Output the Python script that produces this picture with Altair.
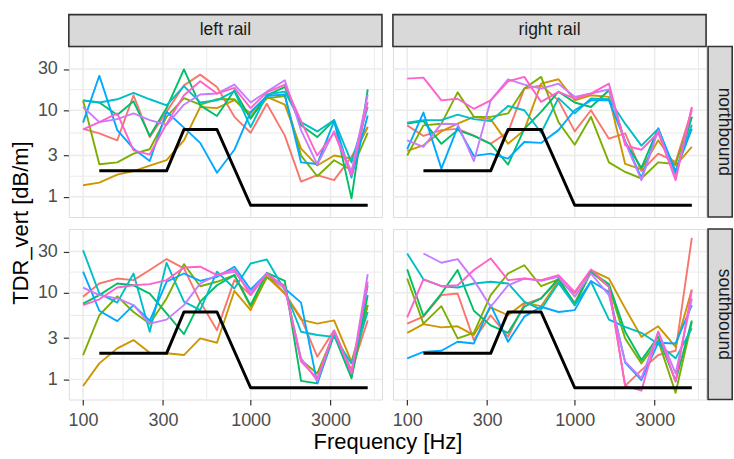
import altair as alt
import pandas as pd

# ---------------- data ----------------
freqs = [100, 125, 160, 200, 250, 315, 400, 500, 630, 800, 1000, 1250, 1600, 2000, 2500, 3150, 4000, 5000]
series_names = ["s1", "s2", "s3", "s4", "s5", "s6", "s7", "s8"]
series_colors = ["#F8766D", "#CD9600", "#7CAE00", "#00BE67", "#00BFC4", "#00A9FF", "#C77CFF", "#FF61CC"]

limit_freq = [125, 315, 400, 630, 1000, 5000]
limit_tdr = [2, 2, 6, 6, 0.8, 0.8]

x_major = [100, 300, 1000, 3000]
x_minor = [173.2, 547.7, 1732, 5477]
y_major = [1, 3, 10, 30]
y_minor = [1.732, 5.477, 17.32]

north_left = {
    "s1": [6.1, 5.4, 4.5, 14.9, 4.9, 9.6, 19.4, 25.8, 18.6, 8.4, 5.5, 11.9, 5.1, 1.5, 1.78, 1.56, 2.9, 6.4],
    "s2": [1.36, 1.46, 1.81, 1.98, 2.3, 2.65, 4.5, 10.9, 10.6, 13.1, 9.2, 14.3, 11.6, 3.6, 2.3, 3.0, 2.77, 6.4],
    "s3": [13, 2.38, 2.5, 3.16, 3.55, 8.4, 13.8, 11.6, 13.4, 13.4, 8.4, 13.7, 14.6, 3.0, 1.73, 2.65, 2.03, 5.5],
    "s4": [13, 12.3, 8.8, 12.7, 5.05, 10.6, 29.6, 11.4, 8.6, 17, 8, 14.9, 18.6, 6.7, 4.9, 7.7, 0.96, 17.4],
    "s5": [13, 12.3, 13.4, 15.9, 13.4, 11.4, 19, 12.3, 13, 16.6, 6.4, 15.2, 16.4, 7.3, 5.7, 7.7, 2.5, 10.9],
    "s6": [7.2, 25, 5.9, 3.6, 2.6, 9.6, 6.3, 4.2, 1.9, 3.5, 9.6, 14.6, 15.2, 2.5, 2.4, 7.5, 1.67, 8.7],
    "s7": [10.9, 7.3, 7.9, 9.2, 7.7, 6.8, 11.6, 15.2, 15.6, 19.8, 12.3, 16.4, 22.2, 5.9, 2.36, 5.7, 1.94, 15.2],
    "s8": [6, 7.3, 9.2, 3.45, 3.08, 7, 14.9, 21.6, 15.6, 18.1, 10.6, 16.1, 19.8, 7.5, 3.0, 5.5, 1.78, 12.5],
}
north_right = {
    "s1": [6.7, 5.05, 5.9, 6.1, 5.1, 4.1, 5.6, 17.8, 19.4, 13, 5.7, 10, 4.7, 5.4, 1.98, 3.16, 2.53, 10],
    "s2": [3.4, 3.94, 5.7, 7, 8.4, 7.9, 4.1, 5.9, 20.3, 22.8, 13, 14.9, 14.3, 2.4, 2.08, 4.5, 2.3, 3.78],
    "s3": [3.0, 6.7, 7, 16.1, 8.4, 8.4, 9.2, 17.8, 24.3, 7.3, 4.0, 8.4, 2.5, 1.94, 1.63, 2.5, 2.4, 8.4],
    "s4": [7, 7.5, 4.1, 5.9, 5.05, 4.1, 2.36, 6.1, 9.6, 16.4, 12.3, 10.9, 17, 4.3, 2.16, 6.2, 1.86, 8.4],
    "s5": [7.2, 7.7, 7.7, 8.9, 7.9, 7.5, 11.2, 10, 5.5, 13.8, 9.2, 13.7, 13.4, 7, 3.9, 6.1, 1.9, 6.8],
    "s6": [3.55, 9.4, 2.12, 6.4, 2.97, 3.16, 2.77, 4.3, 4.2, 5.9, 10, 13, 13, 4.4, 1.66, 6.1, 1.98, 6.1],
    "s7": [4.5, 3.78, 7, 6.9, 2.58, 13, 22.8, 19.8, 17.8, 20.3, 14.3, 15.6, 17.4, 4.3, 1.56, 5.9, 1.63, 10.6],
    "s8": [23.2, 23.8, 13, 13.6, 10.4, 13, 21.6, 24.3, 12.5, 16.3, 13.6, 15.6, 20.3, 3.94, 3.5, 5.5, 1.56, 10.9],
}
south_left = {
    "s1": [9, 12.8, 14.6, 14, 18.3, 24.5, 19.1, 7.9, 3.7, 14, 9.4, 16.7, 9.8, 5.1, 1.83, 3.7, 1.28, 4.8],
    "s2": [0.84, 1.53, 2.28, 2.84, 2.03, 2.0, 1.91, 2.97, 2.65, 10.5, 6.3, 15.3, 9.8, 4.9, 4.4, 4.8, 1.6, 7.2],
    "s3": [1.91, 5.5, 9.1, 6.0, 4.4, 8.6, 21.4, 11.9, 13.4, 16, 6.9, 15, 12.2, 1.67, 1.17, 3.4, 1.07, 7.2],
    "s4": [7.5, 9.4, 12.8, 12.2, 9.8, 5.8, 3.33, 7.9, 12.2, 16, 7.2, 17, 13.7, 0.96, 0.9, 3.25, 1.03, 9.4],
    "s5": [31, 9.8, 7.7, 16.7, 3.55, 22.2, 7.9, 6.3, 17.5, 11.2, 21.8, 24.2, 10.7, 3.55, 3.25, 3.1, 1.53, 6.0],
    "s6": [17.5, 6.2, 4.7, 7.2, 4.75, 13.4, 16.7, 13.7, 15.3, 20, 10.9, 16.7, 11.2, 7.7, 0.9, 3.55, 1.17, 12.2],
    "s7": [11.5, 9.4, 8.6, 7.2, 4.4, 4.9, 7.2, 12.8, 16, 17.5, 10.2, 16.7, 11.2, 1.75, 0.96, 3.6, 1.19, 16.4],
    "s8": [7.2, 8.4, 11.5, 12.2, 12.6, 14, 19.6, 20, 16, 18.6, 9.4, 16.7, 11.7, 1.6, 1.03, 3.6, 1.17, 13.4],
}
south_right = {
    "s1": [4.4, 5.3, 9.4, 9.8, 2.84, 5.5, 3.1, 7.4, 8.6, 14, 9.8, 18.3, 11.7, 0.84, 1.28, 1.91, 2.14, 43],
    "s2": [3.45, 4.35, 3.98, 4.1, 3.25, 6.8, 5.5, 7.65, 7.0, 13.7, 7.65, 18.3, 14.6, 6.6, 3.1, 4.1, 2.38, 10.9],
    "s3": [14.6, 4.4, 7, 2.97, 3.45, 9.4, 16.7, 20.8, 11.9, 14.3, 7.2, 17.5, 11.7, 2.97, 1.53, 2.8, 0.7, 4.6],
    "s4": [18.6, 5.4, 9.8, 18.3, 6.2, 4.2, 3.45, 6.9, 8.6, 14.6, 7.4, 17.5, 12.6, 3.55, 1.67, 3.1, 0.96, 4.8],
    "s5": [28.4, 14.3, 11.9, 11.5, 12.8, 13.4, 12.8, 7.9, 6.4, 13, 7.2, 13.4, 4.9, 4.05, 3.45, 2.56, 1.75, 3.88],
    "s6": [1.75, 2.08, 2.14, 2.72, 2.6, 7.2, 2.72, 5.3, 6.9, 6.0, 6.3, 13.7, 10.2, 1.56, 0.98, 2.65, 2.6, 7.2],
    "s7": [None, 28.4, 22.2, 24.5, 14, 6.9, 12.2, 14.6, 13.7, 15.3, 9, 16.7, 9.4, 1.6, 1.03, 3.55, 1.17, 8.6],
    "s8": [5.2, 14.3, 11.9, 12.2, 18.3, 24.9, 14, 14.6, 14, 16, 10.2, 18.6, 11.7, 0.84, 0.74, 3.55, 0.94, 10.7],
}

# ---------------- layout / style ----------------
W, H = 314, 171
FONT = "Liberation Sans"
GRID = "#EBEBEB"
BORDER = "#333333"

xscale = alt.Scale(type="log", domain=[82.2, 6081], nice=False)
yscale = alt.Scale(type="log", domain=[0.585, 54.5], nice=False)

axis_common = dict(
    title=None, grid=False, domain=False, ticks=True, tickSize=5.5, tickWidth=1.2,
    tickColor=BORDER, labelFontSize=18, labelColor="#4D4D4D", labelFont=FONT,
    labelFlush=False, labelOverlap=False, format="d",
)

one = pd.DataFrame({"k": [0]})
limit_df = pd.DataFrame({"freq": limit_freq, "tdr": limit_tdr})


def long_df(d):
    rows = []
    for s in series_names:
        for f, v in zip(freqs, d[s]):
            if v is not None:
                rows.append({"freq": f, "tdr": v, "series": s})
    return pd.DataFrame(rows)


def panel(d, show_x, show_y, top_label=None, right_label=None, extras_before=(), extras_after=()):
    xaxis = alt.Axis(values=x_major, labelPadding=7, **axis_common) if show_x else None
    yaxis = alt.Axis(values=y_major, labelPadding=6, **axis_common) if show_y else None
    X = alt.X("freq:Q", scale=xscale, axis=xaxis)
    Y = alt.Y("tdr:Q", scale=yscale, axis=yaxis)

    layers = list(extras_before)
    for vals, w in ((x_minor, 1.0), (x_major, 1.5)):
        layers.append(
            alt.Chart(pd.DataFrame({"freq": vals})).mark_rule(color=GRID, strokeWidth=w).encode(x=X)
        )
    for vals, w in ((y_minor, 1.0), (y_major, 1.5)):
        layers.append(
            alt.Chart(pd.DataFrame({"tdr": vals})).mark_rule(color=GRID, strokeWidth=w).encode(y=Y)
        )
    lines = alt.Chart(long_df(d)).mark_line(strokeWidth=1.9, strokeJoin="round").encode(
        x=X, y=Y,
        color=alt.Color("series:N", scale=alt.Scale(domain=series_names, range=series_colors), legend=None),
        detail="series:N",
    )
    limit = alt.Chart(limit_df).mark_line(color="black", strokeWidth=3, strokeJoin="round").encode(x=X, y=Y)
    layers += [lines, limit]
    if top_label:
        layers.append(
            alt.Chart(one).mark_rect(fill="#D9D9D9", stroke=BORDER, strokeWidth=1.6).encode(
                x=alt.value(0), x2=alt.value(W), y=alt.value(-32), y2=alt.value(0))
        )
        layers.append(
            alt.Chart(one).mark_text(text=top_label, fontSize=17.5, font=FONT, color="#1A1A1A",
                                     align="center", baseline="middle").encode(
                x=alt.value(W / 2), y=alt.value(-16.5))
        )
    if right_label:
        layers.append(
            alt.Chart(one).mark_rect(fill="#D9D9D9", stroke=BORDER, strokeWidth=1.6).encode(
                x=alt.value(W + 2), x2=alt.value(W + 26.2), y=alt.value(0), y2=alt.value(H))
        )
        layers.append(
            alt.Chart(one).mark_text(text=right_label, fontSize=17.5, font=FONT, color="#1A1A1A",
                                     align="center", baseline="middle", angle=90).encode(
                x=alt.value(W + 18), y=alt.value(H / 2))
        )
    layers += list(extras_after)
    return alt.layer(*layers).properties(width=W, height=H)


canvas = alt.Chart(one).mark_rect(fill="white", fillOpacity=0, strokeOpacity=0).encode(
    x=alt.value(-68), x2=alt.value(666), y=alt.value(-45), y2=alt.value(414))

ytitle = alt.Chart(one).mark_text(text="TDR_vert [dB/m]", fontSize=22, font=FONT, color="black",
                                  angle=270, align="center", baseline="middle").encode(
    x=alt.value(-48), y=alt.value(H + 6))

xtitle = alt.Chart(one).mark_text(text="Frequency [Hz]", fontSize=22, font=FONT, color="black",
                                  align="center", baseline="middle").encode(
    x=alt.value(320), y=alt.value(214))

tl = panel(north_left, False, True, top_label="left rail", extras_before=[canvas], extras_after=[ytitle])
tr = panel(north_right, False, False, top_label="right rail", right_label="northbound")
bl = panel(south_left, True, True, extras_after=[xtitle])
br = panel(south_right, True, False, right_label="southbound")

chart = alt.concat(tl, tr, bl, br, columns=2, spacing={"row": 12, "column": 11}, bounds="flush").properties(
    padding=0
).configure_view(stroke=BORDER, strokeWidth=1.7).configure(background="white")

chart.save("out.html", embed_options={"renderer": "svg", "actions": False})
